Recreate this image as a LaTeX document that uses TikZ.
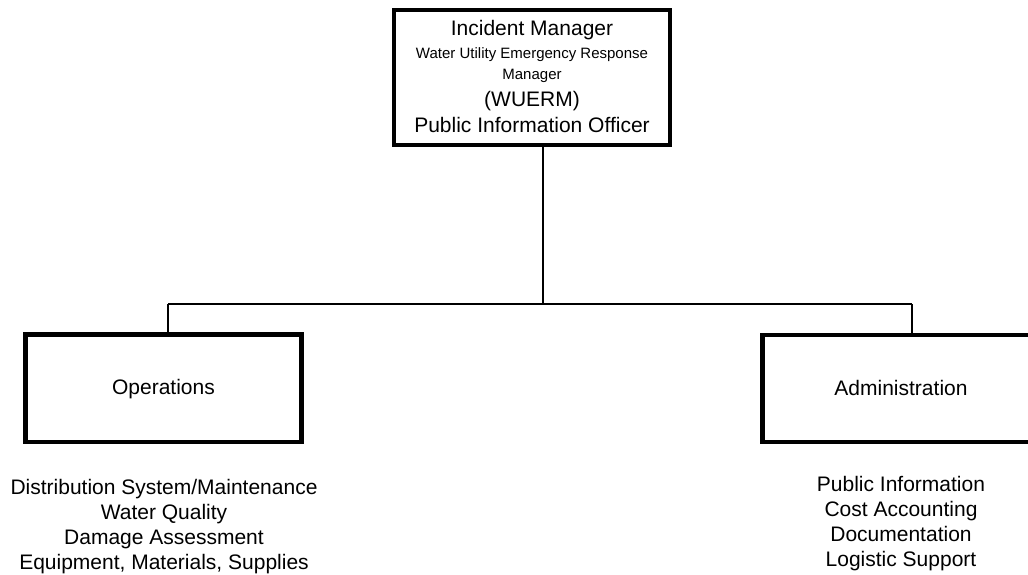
\documentclass[tikz,border=0pt]{standalone}
\usepackage{fontspec}
\setmainfont{Liberation Sans}
\begin{document}
\begin{tikzpicture}[x=1pt,y=-1pt,
  box/.style={draw=black, line width=4.5pt, fill=white, inner sep=0pt},
  conn/.style={draw=black, line width=2pt},
  big/.style={font=\fontsize{21}{25}\selectfont, inner sep=0pt, anchor=base},
  small/.style={font=\fontsize{15}{18}\selectfont, inner sep=0pt, anchor=base}]
\clip (0,0) rectangle (1028,575);
\fill[white] (0,0) rectangle (1028,575);
% boxes
\node[box, minimum width=276pt, minimum height=135pt] (im) at (532,77.5) {};
\node[box, minimum width=276pt, minimum height=107.5pt] (ops) at (163.5,388.25) {};
\node[box, minimum width=276pt, minimum height=107pt] (adm) at (900.5,388.5) {};
% connectors
\coordinate (j) at (543,304);
\coordinate (jl) at (168,304);
\coordinate (jr) at (912,304);
\draw[conn] (im.south -| j) -- (j);
\draw[conn] (jl) -- (jr);
\draw[conn] (jl) -- (jl |- ops.north);
\draw[conn] (jr) -- (jr |- adm.north);
% top box text
\node[big] (t1) at (532,36) {Incident Manager};
\node[small] (t2) at (532,59) {Water Utility Emergency Response};
\node[small] (t3) at (532,80) {Manager};
\node[big] (t4) at (532,107) {(WUERM)};
\node[big] (t5) at (532,132) {Public Information Officer};
% box labels
\node[big] (opsl) at (163.5,394) {Operations};
\node[big] (adml) at (901,395) {Administration};
% lists
\node[big] (l1) at (164,494) {Distribution System/Maintenance};
\node[big] (l2) at (164,519) {Water Quality};
\node[big] (l3) at (164,544) {Damage Assessment};
\node[big] (l4) at (164,569) {Equipment, Materials, Supplies};
\node[big] (r1) at (901,491) {Public Information};
\node[big] (r2) at (901,516) {Cost Accounting};
\node[big] (r3) at (901,541) {Documentation};
\node[big] (r4) at (901,566) {Logistic Support};
\end{tikzpicture}
\end{document}
